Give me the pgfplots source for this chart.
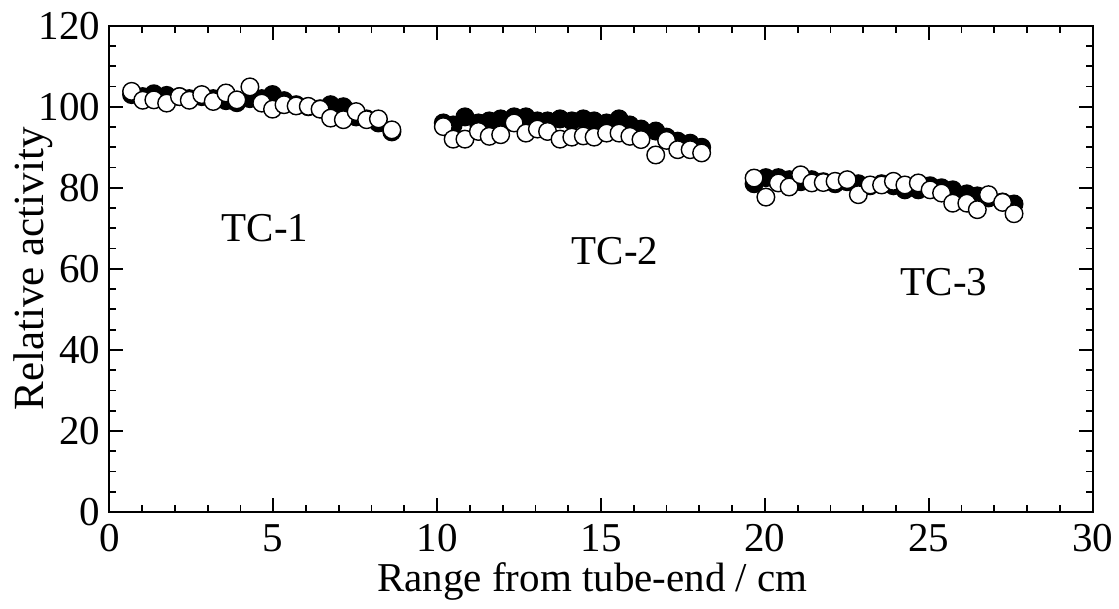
\documentclass[border=0pt]{standalone}
\usepackage{fontspec}
\setmainfont{Liberation Serif}
\usepackage{pgfplots}
\pgfplotsset{compat=1.18}

% filled circles (drawn first) and open circles, three tube sections
\pgfplotstableread{
x y
0.68 103.0
1.02 102.5
1.36 103.2
1.75 102.8
2.14 102.5
2.44 102.0
2.82 102.5
3.17 102.0
3.56 101.5
3.89 101.0
4.29 102.0
4.65 102.0
4.98 103.0
5.33 101.5
5.70 100.5
6.07 100.0
6.43 99.5
6.75 100.5
7.14 100.0
7.53 97.5
7.85 97.0
8.21 96.0
8.62 93.8
}\tcAfill
\pgfplotstableread{
x y
0.68 103.8
1.02 101.6
1.36 101.7
1.75 100.9
2.14 102.5
2.44 101.6
2.82 103.0
3.17 101.3
3.56 103.4
3.89 101.7
4.29 104.9
4.65 100.9
4.98 99.4
5.33 100.5
5.70 100.2
6.07 100.1
6.43 99.4
6.75 97.2
7.14 96.8
7.53 98.8
7.85 96.8
8.21 97.0
8.62 94.3
}\tcAopen
\pgfplotstableread{
x y
10.19 96.0
10.49 95.5
10.85 97.5
11.26 96.0
11.59 96.5
11.94 97.0
12.35 97.5
12.71 97.5
13.06 96.5
13.37 96.5
13.75 97.0
14.11 96.5
14.46 97.0
14.79 96.5
15.17 96.0
15.55 97.0
15.88 95.5
16.22 94.5
16.67 94.0
17.00 92.5
17.34 91.5
17.72 91.0
18.07 90.0
}\tcBfill
\pgfplotstableread{
x y
10.19 95.1
10.49 92.0
10.85 92.0
11.26 93.9
11.59 92.7
11.94 93.1
12.35 96.0
12.71 93.5
13.06 94.5
13.37 93.9
13.75 92.0
14.11 92.5
14.46 92.8
14.79 92.5
15.17 93.5
15.55 93.5
15.88 92.7
16.22 91.9
16.67 88.1
17.00 91.7
17.34 89.4
17.72 89.4
18.07 88.6
}\tcBopen
\pgfplotstableread{
x y
19.67 81.0
20.03 82.5
20.41 82.5
20.74 82.0
21.09 81.5
21.43 82.0
21.78 81.5
22.14 81.0
22.51 81.5
22.85 81.0
23.21 80.5
23.56 81.0
23.92 80.5
24.27 79.5
24.68 79.5
25.04 80.5
25.39 80.0
25.73 79.5
26.16 78.5
26.48 78.0
26.82 77.5
27.25 76.5
27.60 76.0
}\tcCfill
\pgfplotstableread{
x y
19.67 82.4
20.03 77.7
20.41 81.2
20.74 80.2
21.09 83.2
21.43 81.2
21.78 81.3
22.14 81.6
22.51 82.0
22.85 78.3
23.21 80.7
23.56 80.7
23.92 81.6
24.27 80.7
24.68 81.2
25.04 79.5
25.39 78.7
25.73 76.2
26.16 76.2
26.48 74.6
26.82 78.3
27.25 76.4
27.60 73.6
}\tcCopen

\begin{document}
\begin{tikzpicture}
\path[use as bounding box] (-54.65pt,-48.5pt) rectangle (504.85pt,256pt);
\begin{axis}[
    at={(0,0)}, anchor=south west,
    scale only axis,
    width=491.7pt, height=243.15pt,
    xmin=0, xmax=30, ymin=0, ymax=120,
    xtick={0,5,...,30}, ytick={0,20,...,120},
    minor x tick num=4, minor y tick num=3,
    tick align=inside,
    major tick length=7pt, minor tick length=3.5pt,
    every tick/.style={line width=0.9pt, black},
    axis line style={line width=1.1pt},
    /pgf/number format/assume math mode=true,
    tick label style={font=\fontsize{20.5}{22}\selectfont},
    xticklabel style={yshift=-5pt, inner sep=1pt},
    yticklabel style={xshift=-1pt},
    label style={inner sep=1pt},
    xlabel={Range from tube-end / cm},
    ylabel={Relative activity},
    x label style={at={(axis description cs:0.4914,-0.1645)}, anchor=base,
        font=\fontsize{20.5}{22}\selectfont},
    y label style={at={(axis description cs:-0.0674,0.5)}, anchor=base,
        font=\fontsize{21.5}{23}\selectfont},
    clip=false,
    every axis plot/.append style={only marks, mark=*, mark size=4.4pt},
    fillmark/.style={mark options={fill=black, draw=black, line width=0.7pt}},
    openmark/.style={mark options={fill=white, draw=black, line width=0.7pt}},
]
\addplot[fillmark] table {\tcAfill};
\addplot[fillmark] table {\tcBfill};
\addplot[fillmark] table {\tcCfill};
\addplot[openmark] table {\tcAopen};
\addplot[openmark] table {\tcBopen};
\addplot[openmark] table {\tcCopen};

\node[anchor=base, font=\fontsize{20.5}{24}\selectfont] at (axis cs:4.75,66.7) {TC-1};
\node[anchor=base, font=\fontsize{20.5}{24}\selectfont] at (axis cs:15.43,61.0) {TC-2};
\node[anchor=base, font=\fontsize{20.5}{24}\selectfont] at (axis cs:25.46,53.5) {TC-3};
\end{axis}
\end{tikzpicture}
\end{document}
